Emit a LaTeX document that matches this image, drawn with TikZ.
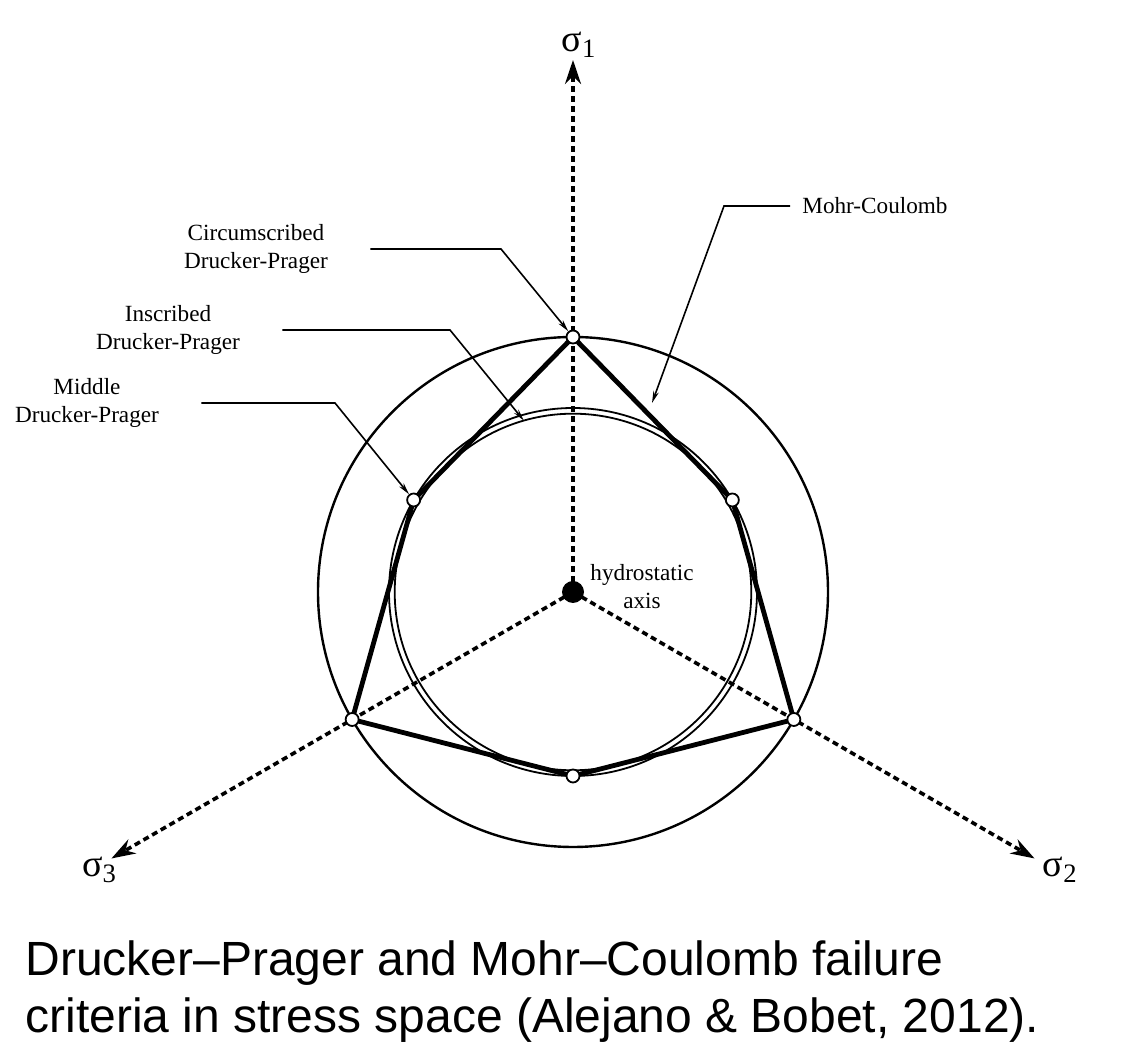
\documentclass[tikz,border=0pt]{standalone}
\usepackage{fontspec}
\setmainfont{Liberation Serif}
\newfontfamily\captionfont{Liberation Sans}
\usetikzlibrary{arrows.meta,positioning,calc}
\tikzset{
    axisline/.style={
        line width=1.8pt,                  % eje de tensiones principal
        dash pattern=on 3pt off 2pt,       % trazo discontinuo corto
        -{Stealth[length=12pt,width=8pt]}  % punta llena al final
    },
    leaderline/.style={
        line width=0.8pt,                  % linea de referencia fina
        -{Stealth[length=6pt,width=2.8pt]}
    },
    outercircle/.style={line width=1.2pt}, % Drucker-Prager circunscrito
    innercircle/.style={line width=0.9pt}, % inscrito y medio
    mohrline/.style={
        line width=2.4pt,                  % hexagono de Mohr-Coulomb
        line join=miter
    },
    vertexdot/.style={
        circle, draw, fill=white,          % vertices huecos
        line width=0.9pt,
        inner sep=0pt, minimum size=6.5pt
    },
    labeltext/.style={
        align=center,                      % etiquetas de dos lineas
        inner sep=2pt,
        font=\fontsize{11.6}{14}\selectfont
    },
    sigmalabel/.style={
        inner sep=1pt,
        font=\fontsize{19}{19}\selectfont
    },
    captiontext/.style={
        align=left,
        inner sep=0pt,
        font=\captionfont\fontsize{24}{28.5}\selectfont
    }
}
\begin{document}
\begin{tikzpicture}[x=0.5pt,y=0.5pt]
\useasboundingbox (0,0) rectangle (1137,1044);
\coordinate (O) at (573,452);
\foreach \a in {90,210,330}{\coordinate (co\a) at ($(O)+(\a:255)$);}
\foreach \a in {30,150,270}{\coordinate (ci\a) at ($(O)+(\a:184)$);}

% circulos de Drucker-Prager
\draw[outercircle] (O) circle[radius=127.5pt];
\draw[innercircle] (O) circle[radius=92pt];
\draw[innercircle] (O) circle[radius=89.15pt];

% Mohr-Coulomb
\draw[mohrline] (co90) -- (ci30) -- (co330) -- (ci270) -- (co210) -- (ci150) -- cycle;

% ejes
\coordinate (s1end) at (573,984);
\coordinate (s2end) at ($(O)+(-30:533)$);
\coordinate (s3end) at ($(O)+(210:533)$);
\draw[axisline] (O) -- (s1end);
\draw[axisline] (O) -- (s2end);
\draw[axisline] (O) -- (s3end);
\node[sigmalabel, above=0pt of s1end, xshift=3pt] (sig1) {σ\textsubscript{1}};
\node[sigmalabel, below right=-2pt and 3pt of s2end] (sig2) {σ\textsubscript{2}};
\node[sigmalabel, below left=-2pt and -4pt of s3end] (sig3) {σ\textsubscript{3}};

% vertices
\foreach \a in {90,210,330}{\node[vertexdot] (v\a) at (co\a) {};}
\foreach \a in {30,150,270}{\node[vertexdot] (v\a) at (ci\a) {};}
\fill (O) circle[radius=5.5pt];
\node[labeltext] (hydro) at (642,457) {hydrostatic\\axis};

% etiquetas
\node[labeltext, anchor=west] (mohr) at (798,838) {Mohr-Coulomb};
\node[labeltext] (circDP) at (256,795) {Circumscribed\\Drucker-Prager};
\node[labeltext] (inscDP) at (168,714) {Inscribed\\Drucker-Prager};
\node[labeltext] (midDP) at (87,641) {Middle\\Drucker-Prager};

\coordinate (mohrbend) at (724,838);
\coordinate (mohrtip) at (652,641);
\coordinate (circbend) at (501,795);
\coordinate (inscbend) at (450,714);
\coordinate (insctip) at ($(O)+(106:178.3)$);
\coordinate (midbend) at (335,641);

\draw[leaderline] ([xshift=-4pt]mohr.west) -- (mohrbend) -- (mohrtip);
\draw[leaderline] ([xshift=19pt]circDP.east) -- (circbend) -- (v90);
\draw[leaderline] ([xshift=19pt]inscDP.east) -- (inscbend) -- (insctip);
\draw[leaderline] ([xshift=19pt]midDP.east) -- (midbend) -- (v150);

% leyenda
\node[captiontext, anchor=north west] (caption) at (25,104)
    {Drucker–Prager and Mohr–Coulomb failure\\criteria in stress space (Alejano \& Bobet, 2012).};
\end{tikzpicture}
\end{document}
